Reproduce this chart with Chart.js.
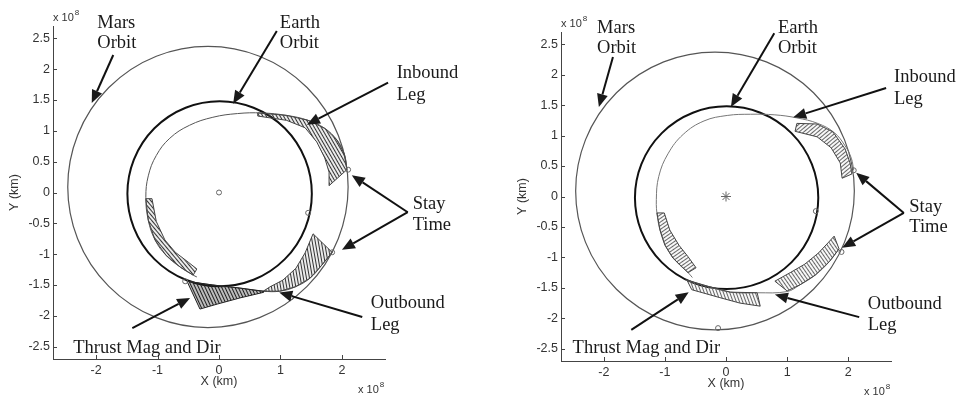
<!DOCTYPE html>
<html>
<head>
<meta charset="utf-8">
<script src="https://cdn.jsdelivr.net/npm/chart.js@4/dist/chart.umd.min.js"></script>
<style>
  html, body { margin: 0; padding: 0; background: #fff; }
  #wrap { position: relative; width: 956px; height: 399px; overflow: hidden; background: #fff; }
  #wrap canvas { position: absolute; top: 0; }
</style>
</head>
<body>
<div id="wrap">
  <canvas id="leftPlot" width="478" height="399" style="left:0"></canvas>
  <canvas id="rightPlot" width="478" height="399" style="left:478px"></canvas>
</div>
<script>
// All distances in units of 1e8 km (heliocentric X/Y plane).
const xTickValues = [-2, -1, 0, 1, 2];
const yTickValues = [-2.5, -2, -1.5, -1, -0.5, 0, 0.5, 1, 1.5, 2, 2.5];
const axisRange = [-2.7, 2.7];

// Orbits: [centre x, centre y, radius]
const earthOrbit = [0.01, -0.02, 1.50];
const marsOrbit = [-0.18, 0.09, 2.28];

// ---- Left solution ----
const leftInboundPath = [
  [2.08, 0.37], [2.04, 0.62], [1.92, 0.85], [1.72, 1.04], [1.45, 1.17], [1.10, 1.25],
  [0.70, 1.29], [0.30, 1.28], [-0.10, 1.22], [-0.48, 1.09], [-0.80, 0.88], [-1.02, 0.60],
  [-1.15, 0.27], [-1.19, -0.08], [-1.15, -0.45], [-1.04, -0.77], [-0.86, -1.02],
  [-0.63, -1.21], [-0.42, -1.34], [-0.36, -1.37]
];
const leftOutboundPath = [
  [-0.52, -1.44], [-0.10, -1.50], [0.34, -1.55], [0.72, -1.60], [0.99, -1.60],
  [1.24, -1.53], [1.48, -1.39], [1.67, -1.18], [1.84, -0.97]
];
// thrust vector bands: trajectory side and vector-tip side
const leftArcInBase = [[0.63, 1.29], [1.10, 1.25], [1.45, 1.17], [1.72, 1.04], [1.92, 0.85], [2.04, 0.62], [2.08, 0.37]];
const leftArcInTip  = [[0.63, 1.24], [1.10, 1.17], [1.40, 1.05], [1.59, 0.82], [1.72, 0.56], [1.79, 0.33], [1.79, 0.11]];
const leftArcWestBase = [[-1.19, -0.10], [-1.15, -0.45], [-1.04, -0.77], [-0.86, -1.02], [-0.63, -1.21], [-0.42, -1.34]];
const leftArcWestTip  = [[-1.09, -0.10], [-1.02, -0.47], [-0.88, -0.77], [-0.71, -0.97], [-0.50, -1.13], [-0.36, -1.24]];
const leftArcDepBase = [[-0.52, -1.44], [-0.10, -1.50], [0.34, -1.55], [0.72, -1.60]];
const leftArcDepTip  = [[-0.31, -1.89], [-0.03, -1.81], [0.34, -1.71], [0.72, -1.62]];
const leftArcOutBase = [[0.72, -1.60], [0.99, -1.60], [1.24, -1.53], [1.48, -1.39], [1.67, -1.18], [1.84, -0.97]];
const leftArcOutTip  = [[0.72, -1.60], [0.83, -1.53], [1.04, -1.42], [1.25, -1.23], [1.40, -0.98], [1.53, -0.67]];
const leftMarkers = [[0, 0], [1.45, -0.33], [2.10, 0.37], [1.84, -0.97], [-0.55, -1.44], [1.17, -1.70]];

// ---- Right solution ----
const rightInboundPath = [
  [2.09, 0.43], [2.05, 0.63], [1.95, 0.83], [1.77, 1.05], [1.50, 1.20], [1.16, 1.29],
  [0.80, 1.34], [0.40, 1.35], [0.02, 1.33], [-0.36, 1.24], [-0.70, 1.02], [-0.95, 0.70],
  [-1.10, 0.33], [-1.14, -0.05], [-1.12, -0.35], [-1.06, -0.62], [-0.96, -0.86],
  [-0.80, -1.08], [-0.62, -1.25], [-0.55, -1.33]
];
const rightOutboundPath = [
  [-0.66, -1.37], [-0.31, -1.47], [0.07, -1.57], [0.51, -1.58], [1.00, -1.56],
  [1.21, -1.45], [1.46, -1.29], [1.69, -1.07], [1.85, -0.86]
];
const rightArcInBase = [[1.16, 1.20], [1.49, 1.19], [1.75, 1.06], [1.95, 0.78], [2.03, 0.55], [2.06, 0.37]];
const rightArcInTip  = [[1.13, 1.07], [1.49, 0.98], [1.72, 0.80], [1.87, 0.55], [1.90, 0.30]];
const rightArcWestBase = [[-1.13, -0.27], [-1.08, -0.55], [-1.00, -0.80], [-0.87, -1.01], [-0.62, -1.25]];
const rightArcWestTip  = [[-1.01, -0.27], [-0.92, -0.55], [-0.77, -0.80], [-0.62, -0.99], [-0.49, -1.17]];
const rightArcDepBase = [[-0.64, -1.37], [-0.31, -1.47], [0.07, -1.57], [0.51, -1.58]];
const rightArcDepTip  = [[-0.56, -1.53], [-0.10, -1.66], [0.23, -1.75], [0.56, -1.80]];
const rightArcOutBase = [[1.00, -1.55], [1.21, -1.45], [1.46, -1.29], [1.69, -1.07], [1.85, -0.86]];
const rightArcOutTip  = [[0.80, -1.39], [1.05, -1.25], [1.29, -1.11], [1.51, -0.93], [1.67, -0.76], [1.77, -0.65]];
const rightMarkers = [[1.47, -0.24], [2.09, 0.43], [1.89, -0.91], [-0.13, -2.16]];
const rightSun = [[0, 0]];

// ---- helpers ----
const SERIF = '"Liberation Serif", "Times New Roman", serif';
const SANS = '"Liberation Sans", Arial, sans-serif';
const pts = a => a.map(([x, y]) => ({ x, y }));

function hatch(color, angle, gap, width) {
  const tile = document.createElement('canvas');
  tile.width = gap; tile.height = gap;
  const g = tile.getContext('2d');
  g.strokeStyle = color; g.lineWidth = width;
  g.beginPath(); g.moveTo(gap / 2, -1); g.lineTo(gap / 2, gap + 1); g.stroke();
  const p = g.createPattern(tile, 'repeat');
  p.setTransform(new DOMMatrix().rotateSelf(angle - 90));
  return p;
}

function pathSet(data, color) {
  return { data: pts(data), borderColor: color, borderWidth: 1, pointRadius: 0,
           tension: 0.4, fill: false, showLine: true, order: 3 };
}
function bandSet(base, tip, fillStyle, edge) {
  const ring = pts(base.concat(tip.slice().reverse()));
  ring.push(ring[0]);
  return { data: ring, backgroundColor: fillStyle, borderColor: edge, borderWidth: 1,
           pointRadius: 0, tension: 0, fill: 'shape', showLine: true, order: 2 };
}
function markerSet(data, style, r) {
  return { data: pts(data), showLine: false, pointStyle: style, pointRadius: r,
           pointBorderColor: '#666', pointBackgroundColor: 'rgba(0,0,0,0)',
           pointBorderWidth: 1, order: 1 };
}

const orbitPlugin = {
  id: 'orbits',
  beforeDatasetsDraw(chart) {
    const { ctx, scales: { x, y } } = chart;
    ctx.save();
    [[marsOrbit, '#555', 1.2], [earthOrbit, '#111', 2]].forEach(([o, c, w]) => {
      const cx = x.getPixelForValue(o[0]), cy = y.getPixelForValue(o[1]);
      const rx = x.getPixelForValue(o[0] + o[2]) - cx;
      const ry = cy - y.getPixelForValue(o[1] + o[2]);
      ctx.beginPath();
      ctx.ellipse(cx, cy, rx, ry, 0, 0, Math.PI * 2);
      ctx.strokeStyle = c; ctx.lineWidth = w; ctx.stroke();
    });
    ctx.restore();
  }
};

function drawExponent(ctx, x, y) {
  ctx.textAlign = 'left'; ctx.textBaseline = 'middle';
  ctx.font = '11px ' + SANS;
  ctx.fillText('x 10', x, y);
  const w = ctx.measureText('x 10').width;
  ctx.font = '8px ' + SANS;
  ctx.fillText('8', x + w + 1, y - 5);
}

const framePlugin = {
  id: 'frame',
  afterDraw(chart) {
    const { ctx, chartArea: a, scales: { x, y } } = chart;
    ctx.save();
    ctx.strokeStyle = '#444'; ctx.lineWidth = 1;
    ctx.beginPath();
    xTickValues.forEach(v => {
      const p = Math.round(x.getPixelForValue(v)) + 0.5;
      ctx.moveTo(p, a.bottom); ctx.lineTo(p, a.bottom - 4);
    });
    yTickValues.forEach(v => {
      const p = Math.round(y.getPixelForValue(v)) + 0.5;
      ctx.moveTo(a.left, p); ctx.lineTo(a.left + 4, p);
    });
    ctx.stroke();
    ctx.fillStyle = '#333';
    ctx.font = '12.5px ' + SANS;
    ctx.textAlign = 'center'; ctx.textBaseline = 'middle';
    ctx.fillText('X (km)', (a.left + a.right) / 2, a.bottom + 23);
    ctx.save();
    ctx.translate(a.left - 38, (a.top + a.bottom) / 2);
    ctx.rotate(-Math.PI / 2);
    ctx.fillText('Y (km)', 0, 0);
    ctx.restore();
    drawExponent(ctx, a.left, a.top - 8);
    drawExponent(ctx, a.right - 27, a.bottom + 31);
    ctx.restore();
  }
};

function arrow(ctx, x1, y1, x2, y2) {
  const ang = Math.atan2(y2 - y1, x2 - x1), L = 13, W = 5.5;
  const bx = x2 - L * Math.cos(ang), by = y2 - L * Math.sin(ang);
  ctx.beginPath(); ctx.moveTo(x1, y1); ctx.lineTo(bx, by); ctx.stroke();
  ctx.beginPath();
  ctx.moveTo(x2, y2);
  ctx.lineTo(bx + W * Math.sin(ang), by - W * Math.cos(ang));
  ctx.lineTo(bx - W * Math.sin(ang), by + W * Math.cos(ang));
  ctx.closePath(); ctx.fill();
}

function notesPlugin(notes) {
  return {
    id: 'notes',
    afterDraw(chart) {
      const { ctx, scales: { x, y } } = chart;
      const X = v => x.getPixelForValue(v), Y = v => y.getPixelForValue(v);
      ctx.save();
      ctx.fillStyle = '#1a1a1a'; ctx.strokeStyle = '#111'; ctx.lineWidth = 2;
      ctx.font = '18.5px ' + SERIF;
      ctx.textAlign = 'left'; ctx.textBaseline = 'alphabetic';
      notes.labels.forEach(([t, lx, ly]) => ctx.fillText(t, X(lx), Y(ly)));
      notes.arrows.forEach(([x1, y1, x2, y2]) => arrow(ctx, X(x1), Y(y1), X(x2), Y(y2)));
      ctx.restore();
    }
  };
}

function makeChart(id, layout, datasets, notes) {
  const tickFont = { family: SANS, size: 12.5 };
  return new Chart(document.getElementById(id), {
    type: 'line',
    data: { datasets },
    options: {
      responsive: false, animation: false, events: [],
      devicePixelRatio: 1,
      layout: { padding: layout.padding },
      plugins: { legend: { display: false }, tooltip: { enabled: false } },
      scales: {
        x: {
          type: 'linear', min: axisRange[0], max: axisRange[1],
          afterBuildTicks: s => { s.ticks = xTickValues.map(v => ({ value: v })); },
          afterFit: s => { s.height = layout.xHeight; },
          grid: { display: true, drawOnChartArea: false, drawTicks: false },
          border: { display: true, color: '#444', width: 1 },
          ticks: { color: '#333', font: tickFont, padding: 4, maxRotation: 0, autoSkip: false,
                   callback: v => String(v) }
        },
        y: {
          type: 'linear', min: axisRange[0], max: axisRange[1],
          afterBuildTicks: s => { s.ticks = yTickValues.map(v => ({ value: v })); },
          afterFit: s => { s.width = layout.yWidth; },
          grid: { display: true, drawOnChartArea: false, drawTicks: false },
          border: { display: true, color: '#444', width: 1 },
          ticks: { color: '#333', font: tickFont, padding: 3, autoSkip: false,
                   callback: v => String(v) }
        }
      }
    },
    plugins: [orbitPlugin, framePlugin, notesPlugin(notes)]
  });
}

// ---- left figure ----
makeChart('leftPlot',
  { padding: { left: 0, right: 93, top: 26, bottom: 0 }, yWidth: 53, xHeight: 40 },
  [
    pathSet(leftInboundPath, '#555'),
    pathSet(leftOutboundPath, '#555'),
    bandSet(leftArcInBase, leftArcInTip, hatch('#333', 60, 3, 1.2), '#444'),
    bandSet(leftArcWestBase, leftArcWestTip, hatch('#333', 50, 3, 1.2), '#444'),
    bandSet(leftArcDepBase, leftArcDepTip, hatch('#1e1e1e', 65, 3, 1.6), '#222'),
    bandSet(leftArcOutBase, leftArcOutTip, hatch('#333', 80, 3, 1.2), '#444'),
    markerSet(leftMarkers, 'circle', 2.5)
  ],
  {
    labels: [
      ['Mars', -1.98, 2.67], ['Orbit', -1.98, 2.35],
      ['Earth', 0.99, 2.67], ['Orbit', 0.99, 2.35],
      ['Inbound', 2.89, 1.86], ['Leg', 2.89, 1.50],
      ['Stay', 3.15, -0.27], ['Time', 3.15, -0.61],
      ['Outbound', 2.47, -1.88], ['Leg', 2.47, -2.23],
      ['Thrust Mag and Dir', -2.37, -2.61]
    ],
    arrows: [
      [-1.72, 2.23, -2.07, 1.45],
      [0.94, 2.62, 0.23, 1.44],
      [2.75, 1.78, 1.43, 1.10],
      [3.07, -0.32, 2.16, 0.28],
      [3.07, -0.32, 2.00, -0.93],
      [2.33, -2.02, 0.98, -1.62],
      [-1.41, -2.20, -0.47, -1.71]
    ]
  });

// ---- right figure ----
makeChart('rightPlot',
  { padding: { left: 30, right: 65, top: 32, bottom: 0 }, yWidth: 53, xHeight: 38 },
  [
    pathSet(rightInboundPath, '#777'),
    pathSet(rightOutboundPath, '#777'),
    bandSet(rightArcInBase, rightArcInTip, hatch('#666', -40, 3, 1.1), '#444'),
    bandSet(rightArcWestBase, rightArcWestTip, hatch('#666', -35, 3, 1.1), '#444'),
    bandSet(rightArcDepBase, rightArcDepTip, hatch('#666', 70, 3, 1.1), '#444'),
    bandSet(rightArcOutBase, rightArcOutTip, hatch('#666', 55, 3, 1.1), '#444'),
    markerSet(rightMarkers, 'circle', 2.5),
    markerSet(rightSun, 'star', 5)
  ],
  {
    labels: [
      ['Mars', -2.11, 2.68], ['Orbit', -2.11, 2.35],
      ['Earth', 0.85, 2.68], ['Orbit', 0.85, 2.35],
      ['Inbound', 2.75, 1.88], ['Leg', 2.75, 1.52],
      ['Stay', 3.00, -0.25], ['Time', 3.00, -0.58],
      ['Outbound', 2.32, -1.84], ['Leg', 2.32, -2.19],
      ['Thrust Mag and Dir', -2.51, -2.57]
    ],
    arrows: [
      [-1.85, 2.29, -2.08, 1.47],
      [0.79, 2.68, 0.08, 1.47],
      [2.62, 1.78, 1.10, 1.30],
      [2.91, -0.27, 2.13, 0.39],
      [2.91, -0.27, 1.90, -0.84],
      [2.18, -1.98, 0.80, -1.61],
      [-1.55, -2.19, -0.61, -1.57]
    ]
  });
</script>
</body>
</html>
